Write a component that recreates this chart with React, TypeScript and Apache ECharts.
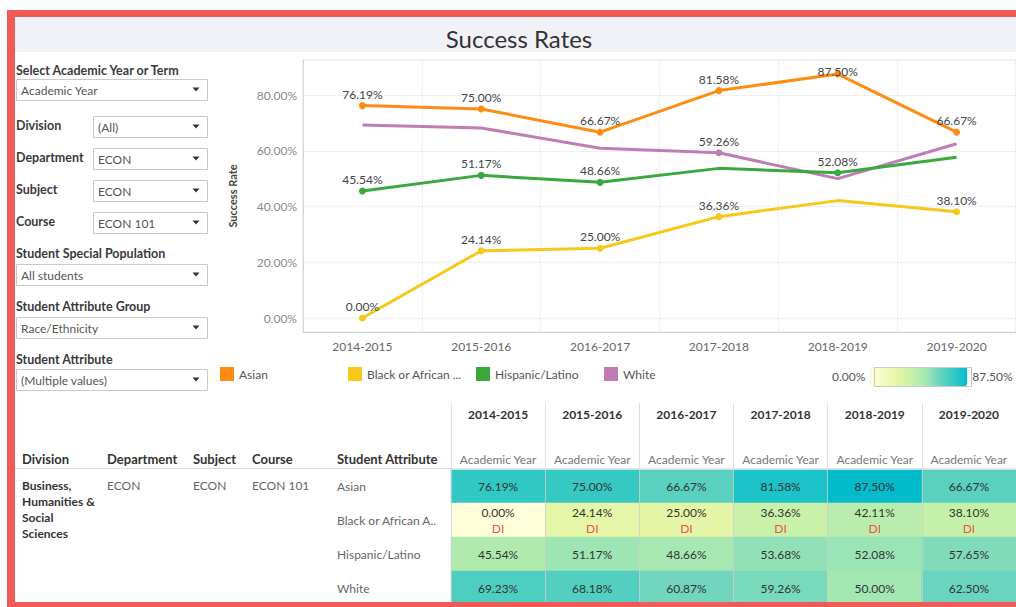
import React, { useEffect, useRef } from 'react';
import * as echarts from 'echarts';

// ---------- data ----------
const YEARS = ['2014-2015', '2015-2016', '2016-2017', '2017-2018', '2018-2019', '2019-2020'];
const ATTRIBUTES = ['Asian', 'Black or African American', 'Hispanic/Latino', 'White'];
const ASIAN = [76.19, 75.0, 66.67, 81.58, 87.5, 66.67];
const BLACK = [0.0, 24.14, 25.0, 36.36, 42.11, 38.1];
const HISPANIC = [45.54, 51.17, 48.66, 53.68, 52.08, 57.65];
const WHITE = [69.23, 68.18, 60.87, 59.26, 50.0, 62.5];
const ASIAN_LABELED = [true, true, true, true, true, true];
const BLACK_LABELED = [true, true, true, true, false, true];
const HISPANIC_LABELED = [true, true, true, false, true, false];
const WHITE_LABELED = [false, false, false, true, false, false];
const DI_FLAGS = [false, true, false, false];
const Y_MIN = 0;
const Y_MAX = 80;
const Y_STEP = 20;
const COLOR_MIN = 0;
const COLOR_MAX = 87.5;

const FILTER_LABELS = ['Select Academic Year or Term', 'Division', 'Department', 'Subject', 'Course',
  'Student Special Population', 'Student Attribute Group', 'Student Attribute'];
const FILTER_VALUES = ['Academic Year', '(All)', 'ECON', 'ECON', 'ECON 101', 'All students', 'Race/Ethnicity', '(Multiple values)'];
const TABLE_HEADERS = ['Division', 'Department', 'Subject', 'Course', 'Student Attribute'];
const DIVISION_LINES = ['Business,', 'Humanities &', 'Social', 'Sciences'];
const DEPARTMENT = 'ECON';
const SUBJECT = 'ECON';
const COURSE = 'ECON 101';
const TITLE = 'Success Rates';
const PERIOD_TYPE = 'Academic Year';

const SERIES_VALUES = [ASIAN, BLACK, HISPANIC, WHITE];
const SERIES_LABELED = [ASIAN_LABELED, BLACK_LABELED, HISPANIC_LABELED, WHITE_LABELED];
const LINE_COLORS = ['#ff8c12', '#f5c81a', '#3aa83d', '#be7db3'];
const HEAT_COLORS = ['#ffffdc', '#f2fac2', '#e4f6a6', '#c7f0a9', '#a3e7b3', '#6ad4be', '#36c9c3', '#03bbcb'];

const FONT = 'Lato';
const pct = (v: number) => v.toFixed(2) + '%';
const shortLegend = (n: string) => (n.length > 20 ? n.slice(0, 17) + '...' : n);
const shortAxis = (n: string) => (n.length > 20 ? n.slice(0, 18) + '..' : n);

function buildGraphic() {
  const g: any[] = [];
  const red = '#f25a56';
  // frame
  g.push({ type: 'rect', shape: { x: 7, y: 10, width: 1009, height: 7 }, style: { fill: red }, silent: true });
  g.push({ type: 'rect', shape: { x: 7, y: 10, width: 8, height: 597 }, style: { fill: red }, silent: true });
  g.push({ type: 'rect', shape: { x: 7, y: 602, width: 1009, height: 5 }, style: { fill: red }, silent: true, z: 10 });
  // title bar
  g.push({ type: 'rect', shape: { x: 15, y: 17, width: 1001, height: 35 }, style: { fill: '#f0f2f7' }, silent: true });
  g.push({ type: 'text', x: 519, y: 38, style: { text: TITLE, fontSize: 24, fontFamily: FONT, fill: '#333', align: 'center', verticalAlign: 'middle' } });

  // filters
  const labelY = [70, 125, 157, 189, 221, 253, 306, 359];
  const boxes = [
    [16, 79, 191], [93, 116, 114], [93, 148, 114], [93, 180, 114], [93, 212, 114],
    [16, 264, 191], [16, 317, 191], [16, 369, 191],
  ];
  FILTER_LABELS.forEach((t, i) => {
    g.push({ type: 'text', x: 16, y: labelY[i], style: { text: t, fontSize: 12.5, fontWeight: 'bold', fontFamily: FONT, fill: '#3a3a3a', verticalAlign: 'middle' } });
    const [bx, by, bw] = boxes[i];
    g.push({ type: 'rect', shape: { x: bx + 0.5, y: by + 0.5, width: bw, height: 21 }, style: { fill: '#fff', stroke: '#c9c9c9', lineWidth: 1 } });
    g.push({ type: 'text', x: bx + 5, y: by + 11, style: { text: FILTER_VALUES[i], fontSize: 12, fontFamily: FONT, fill: '#555', verticalAlign: 'middle' } });
    const ax = bx + bw - 11;
    const ay = by + 10;
    g.push({ type: 'polygon', shape: { points: [[ax - 3.5, ay - 1.5], [ax + 3.5, ay - 1.5], [ax, ay + 2.5]] }, style: { fill: '#333' } });
  });

  // table headers
  const hx = [22, 107, 193, 252, 337];
  TABLE_HEADERS.forEach((t, i) => {
    g.push({ type: 'text', x: hx[i], y: 459, style: { text: t, fontSize: 13, fontWeight: 'bold', fontFamily: FONT, fill: '#333', verticalAlign: 'middle' } });
  });
  g.push({ type: 'line', shape: { x1: 15, y1: 468.5, x2: 451, y2: 468.5 }, style: { stroke: '#d9d9d9', lineWidth: 1 } });
  DIVISION_LINES.forEach((t, i) => {
    g.push({ type: 'text', x: 22, y: 485 + i * 16, style: { text: t, fontSize: 12, fontWeight: 'bold', fontFamily: FONT, fill: '#333', verticalAlign: 'middle' } });
  });
  [[107, DEPARTMENT], [193, SUBJECT], [252, COURSE]].forEach(([x, t]) => {
    g.push({ type: 'text', x, y: 485, style: { text: t, fontSize: 12, fontFamily: FONT, fill: '#666', verticalAlign: 'middle' } });
  });
  // color legend outline
  g.push({ type: 'rect', shape: { x: 874.5, y: 367.5, width: 97, height: 19 }, style: { fill: 'none', stroke: '#c8c8c8', lineWidth: 1 }, z: 20 });
  return g;
}

export default function App() {
  const ref = useRef<HTMLDivElement>(null);
  useEffect(() => {
    if (!ref.current) return;
    const chart = echarts.init(ref.current, null, { renderer: 'svg' });

    const lineSeries = ATTRIBUTES.map((name, s) => ({
      name,
      type: 'line',
      xAxisIndex: 0,
      yAxisIndex: 0,
      clip: false,
      symbol: 'circle',
      lineStyle: { width: 3, color: LINE_COLORS[s] },
      itemStyle: { color: LINE_COLORS[s] },
      data: SERIES_VALUES[s].map((v, i) => ({
        value: v,
        symbolSize: SERIES_LABELED[s][i] ? 7 : 0,
        label: { show: SERIES_LABELED[s][i] },
      })),
      label: {
        position: 'top',
        distance: 2,
        color: '#444',
        fontSize: 12,
        fontFamily: FONT,
        formatter: (p: any) => pct(p.value),
      },
      labelLayout: (p: any) => (p.labelRect && p.labelRect.y < 65 ? { dy: 65.5 - p.labelRect.y } : {}),
      emphasis: { disabled: true },
      z: 3 + (3 - s),
    }));

    const heatData: any[] = [];
    ATTRIBUTES.forEach((_, r) => {
      SERIES_VALUES[r].forEach((v, c) => heatData.push([c, r, v]));
    });

    const option: any = {
      animation: false,
      textStyle: { fontFamily: FONT },
      graphic: buildGraphic(),
      grid: [
        { left: 303, top: 95, width: 720, height: 223 },
        { left: 303, top: 60, width: 720, height: 272, show: true, borderColor: '#e2e2e2', borderWidth: 1, backgroundColor: 'transparent' },
        { left: 451, top: 469, width: 573, height: 136 },
      ],
      xAxis: [
        { gridIndex: 0, type: 'category', data: YEARS, show: false },
        {
          gridIndex: 1, type: 'category', data: YEARS,
          axisLine: { lineStyle: { color: '#d5d5d5', width: 1 } },
          axisTick: { show: false },
          axisLabel: { color: '#666', fontSize: 12, margin: 8, interval: 0 },
          splitLine: { show: true, interval: 0, lineStyle: { color: '#f0f0f0' } },
        },
        {
          gridIndex: 2, type: 'category', data: YEARS, position: 'top', z: 5,
          axisLine: { lineStyle: { color: '#d9d9d9' } },
          axisTick: { show: true, interval: 0, length: 66, lineStyle: { color: '#e0e0e0' } },
          axisLabel: { formatter: () => PERIOD_TYPE, color: '#777', fontSize: 12, margin: 4, interval: 0, hideOverlap: false },
          splitLine: { show: true, interval: 0, lineStyle: { color: 'rgba(205,205,205,0.8)' } },
        },
        {
          gridIndex: 2, type: 'category', data: YEARS, position: 'top', offset: 45,
          axisLine: { show: false }, axisTick: { show: false },
          axisLabel: { color: '#333', fontSize: 12, fontWeight: 'bold', margin: 4, interval: 0 },
        },
      ],
      yAxis: [
        {
          gridIndex: 0, type: 'value', min: Y_MIN, max: Y_MAX, interval: Y_STEP,
          axisLine: { show: false }, axisTick: { show: false },
          axisLabel: { formatter: (v: number) => pct(v), color: '#888', fontSize: 12, margin: 6 },
          splitLine: { lineStyle: { color: '#efefef' } },
        },
        {
          gridIndex: 1, type: 'value', min: 0, max: 1,
          axisLabel: { show: false }, axisTick: { show: false }, splitLine: { show: false },
          axisLine: { show: true, lineStyle: { color: '#d5d5d5' } },
          name: 'Success Rate', nameLocation: 'middle', nameGap: 65,
          nameTextStyle: { color: '#444', fontSize: 11, fontWeight: 'bold' },
        },
        {
          gridIndex: 2, type: 'category', data: ATTRIBUTES, inverse: true,
          axisLine: { show: true, lineStyle: { color: '#e0e0e0' } }, axisTick: { show: false },
          axisLabel: { align: 'left', margin: 114, color: '#666', fontSize: 12, formatter: shortAxis, interval: 0 },
        },
      ],
      legend: ATTRIBUTES.map((n, i) => ({
        data: [n],
        left: 220 + 128 * i,
        top: 367,
        icon: 'rect',
        itemWidth: 14,
        itemHeight: 14,
        padding: 0,
        selectedMode: false,
        formatter: shortLegend,
        textStyle: { color: '#555', fontSize: 12 },
      })),
      visualMap: {
        type: 'continuous',
        min: COLOR_MIN,
        max: COLOR_MAX,
        seriesIndex: 4,
        orient: 'horizontal',
        left: 832,
        top: 367,
        itemWidth: 19,
        itemHeight: 97,
        padding: 0,
        text: [pct(COLOR_MAX), pct(COLOR_MIN)],
        textGap: 5,
        calculable: false,
        hoverLink: false,
        inRange: { color: HEAT_COLORS },
        textStyle: { color: '#555', fontSize: 12 },
      },
      series: [
        ...lineSeries,
        {
          type: 'heatmap',
          xAxisIndex: 2,
          yAxisIndex: 2,
          data: heatData,
          itemStyle: { borderWidth: 0 },
          label: {
            show: true,
            color: '#333',
            fontSize: 12,
            lineHeight: 16,
            formatter: (p: any) => {
              const r = p.data[1];
              return '{v|' + pct(p.data[2]) + '}' + (DI_FLAGS[r] ? '\n{di|DI}' : '');
            },
            rich: {
              v: { color: '#333', fontSize: 12, lineHeight: 16, fontFamily: FONT },
              di: { color: '#f0504e', fontSize: 12, lineHeight: 16, fontFamily: FONT },
            },
          },
          emphasis: { disabled: true },
        },
      ],
    };
    chart.setOption(option);
    return () => chart.dispose();
  }, []);
  return <div ref={ref} style={{ position: 'fixed', left: 0, top: 0, width: 1016, height: 607, background: '#fff' }} />;
}
